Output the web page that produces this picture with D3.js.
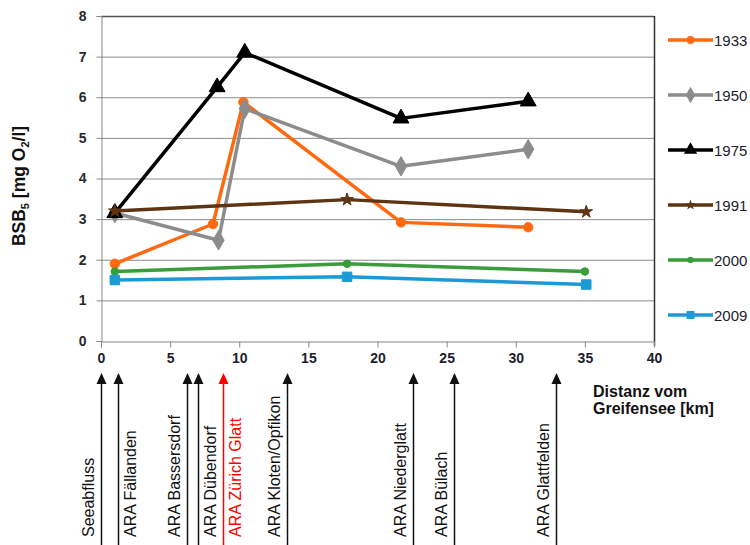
<!DOCTYPE html>
<html><head><meta charset="utf-8">
<script src="https://cdn.jsdelivr.net/npm/d3@7"></script>
<style>html,body{margin:0;padding:0;background:#fff;}svg{display:block;font-family:"Liberation Sans",Arial,sans-serif;}</style>
</head><body>
<svg id="c" width="750" height="545"></svg>
<script>
// ---- data ----
const seriesNames = ["1933", "1950", "1975", "1991", "2000", "2009"];
const seriesColors = ["#FF6A10", "#8C8C8C", "#000000", "#5E3512", "#3A9C3A", "#1C9AD6"];
const seriesMarkers = ["circle", "diamond", "triangle", "star", "circle", "square"];
const x1933 = [1, 8.1, 10.3, 21.7, 30.9];
const y1933 = [1.9, 2.88, 5.88, 2.92, 2.8];
const x1950 = [1, 8.5, 10.4, 21.7, 30.9];
const y1950 = [3.15, 2.48, 5.72, 4.3, 4.72];
const x1975 = [1, 8.4, 10.4, 21.7, 30.9];
const y1975 = [3.15, 6.25, 7.1, 5.48, 5.9];
const x1991 = [1, 17.8, 35.1];
const y1991 = [3.2, 3.48, 3.18];
const x2000 = [1, 17.8, 35];
const y2000 = [1.71, 1.9, 1.71];
const x2009 = [1, 17.8, 35.1];
const y2009 = [1.5, 1.58, 1.39];
const xTicks = [0, 5, 10, 15, 20, 25, 30, 35, 40];
const yTicks = [0, 1, 2, 3, 4, 5, 6, 7, 8];
const siteNames = ["Seeabfluss", "ARA Fällanden", "ARA Bassersdorf", "ARA Dübendorf", "ARA Zürich Glatt",
  "ARA Kloten/Opfikon", "ARA Niederglatt", "ARA Bülach", "ARA Glattfelden"];
const siteKm = [0, 1.25, 6.25, 7.0, 8.8, 13.45, 22.55, 25.5, 32.9];
const siteLabelSide = ["left", "right", "left", "right", "right", "left", "left", "left", "left"];
const siteHighlight = [false, false, false, false, true, false, false, false, false];
const xTitle = ["Distanz vom", "Greifensee [km]"];

const xs = [x1933, x1950, x1975, x1991, x2000, x2009];
const ys = [y1933, y1950, y1975, y1991, y2000, y2009];

// ---- layout ----
const svg = d3.select("#c");
const L = 101, R = 654, T = 16, B = 341;
const x = d3.scaleLinear().domain([0, 40]).range([L, R]);
const y = d3.scaleLinear().domain([0, 8]).range([B, T]);
const textCol = "#1d1d2e";

svg.append("rect").attr("width", 750).attr("height", 545).attr("fill", "#fff");

// gridlines
svg.append("g").selectAll("line").data(yTicks.filter(d => d > 0 && d < 8)).join("line")
  .attr("x1", L).attr("x2", R).attr("y1", d => y(d) + 0.5).attr("y2", d => y(d) + 0.5)
  .attr("stroke", "#8a8a8a").attr("stroke-width", 1);
svg.append("line").attr("x1", L).attr("x2", R).attr("y1", y(8) + 0.5).attr("y2", y(8) + 0.5)
  .attr("stroke", "#555").attr("stroke-width", 1.5);
svg.append("line").attr("x1", R + 0.5).attr("x2", R + 0.5).attr("y1", T).attr("y2", B + 5)
  .attr("stroke", "#333").attr("stroke-width", 1.5);

// axes
const yAxis = d3.axisLeft(y).tickValues(yTicks).tickSize(5).tickPadding(10).tickFormat(d3.format("d"));
const gy = svg.append("g").attr("transform", `translate(${L + 0.5},0)`).call(yAxis);
gy.select(".domain").attr("stroke", "#888");
gy.selectAll(".tick line").attr("stroke", "#888");
gy.selectAll(".tick text").attr("font-size", 14).attr("font-weight", "bold").attr("fill", "#2a2a2a")
  .attr("font-family", "Liberation Sans, Arial, sans-serif");

const xAxis = d3.axisBottom(x).tickValues(xTicks).tickSize(6).tickPadding(6).tickFormat(d3.format("d"));
const gx = svg.append("g").attr("transform", `translate(0,${B + 0.5})`).call(xAxis);
gx.select(".domain").attr("stroke", "#888");
gx.selectAll(".tick line").attr("stroke", "#888");
gx.selectAll(".tick text").attr("font-size", 14).attr("font-weight", "bold").attr("fill", textCol)
  .attr("font-family", "Liberation Sans, Arial, sans-serif");

// markers
const symType = {circle: d3.symbolCircle, diamond: d3.symbolDiamond, triangle: d3.symbolTriangle,
  star: d3.symbolStar, square: d3.symbolSquare};
const symSize = [70, 110, 110, 50, 45, 90];

// series
seriesNames.forEach((name, i) => {
  const pts = xs[i].map((v, j) => [v, ys[i][j]]);
  const g = svg.append("g");
  g.append("path").datum(pts)
    .attr("d", d3.line().x(d => x(d[0])).y(d => y(d[1])))
    .attr("fill", "none").attr("stroke", seriesColors[i]).attr("stroke-width", 3.5)
    .attr("stroke-linejoin", "round");
  g.selectAll("path.m").data(pts).join("path").attr("class", "m")
    .attr("transform", d => `translate(${x(d[0])},${y(d[1])})`)
    .attr("d", d3.symbol().type(symType[seriesMarkers[i]]).size(symSize[i]))
    .attr("fill", seriesColors[i]).attr("stroke", seriesColors[i]).attr("stroke-width", 1);
});

// legend
const legY = d3.scalePoint().domain(seriesNames).range([40, 315]);
const leg = svg.append("g");
seriesNames.forEach((name, i) => {
  const yy = legY(name);
  leg.append("line").attr("x1", 668).attr("x2", 713).attr("y1", yy).attr("y2", yy)
    .attr("stroke", seriesColors[i]).attr("stroke-width", 3.5);
  leg.append("path").attr("transform", `translate(690.5,${yy})`)
    .attr("d", d3.symbol().type(symType[seriesMarkers[i]]).size(symSize[i] * 0.7))
    .attr("fill", seriesColors[i]);
  leg.append("text").attr("x", 714).attr("y", yy + 5.5).text(name)
    .attr("font-size", 15).attr("fill", textCol);
});

// y title
const yt = svg.append("text").attr("transform", "translate(25,186) rotate(-90)")
  .attr("text-anchor", "middle").attr("font-size", 17.5).attr("font-weight", "bold").attr("fill", "#111");
yt.append("tspan").text("BSB");
yt.append("tspan").text("5").attr("font-size", 11).attr("dy", 4);
yt.append("tspan").text(" [mg O").attr("dy", -4);
yt.append("tspan").text("2").attr("font-size", 11).attr("dy", 4);
yt.append("tspan").text("/l]").attr("dy", -4);

// x title
svg.append("g").selectAll("text").data(xTitle).join("text")
  .attr("x", 593).attr("y", (d, i) => 397 + i * 17).text(d => d)
  .attr("font-size", 16).attr("font-weight", "bold").attr("fill", "#111");

// site arrows
const arrows = svg.append("g");
siteNames.forEach((name, i) => {
  const ax = Math.round(x(siteKm[i])) + 0.5;
  const col = siteHighlight[i] ? "#FF0000" : "#111";
  arrows.append("line").attr("x1", ax).attr("x2", ax).attr("y1", 380).attr("y2", 545)
    .attr("stroke", col).attr("stroke-width", 1.5);
  arrows.append("path").attr("d", `M${ax},373 L${ax - 5},384 L${ax + 5},384 Z`).attr("fill", col);
  const lx = siteLabelSide[i] === "left" ? ax - 7.5 : ax + 17.5;
  arrows.append("text").attr("transform", `translate(${lx},537) rotate(-90)`)
    .attr("font-size", 16).attr("fill", siteHighlight[i] ? "#FF0000" : "#111").text(name);
});
</script>
</body></html>
